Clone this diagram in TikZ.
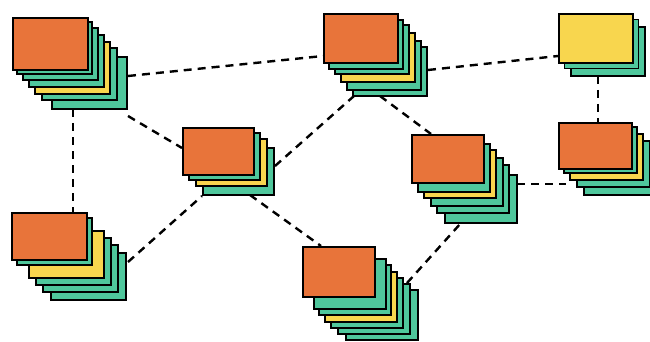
\documentclass[tikz,border=0pt]{standalone}
\begin{document}
\begin{tikzpicture}[x=1pt,y=-1pt,
  card/.style={draw=black, line width=1.8pt, line join=miter},
  link/.style={draw=black, line width=2.4pt, dash pattern=on 8pt off 6pt}]
\definecolor{cardorange}{HTML}{E8743A}
\definecolor{cardgreen}{HTML}{4FC79C}
\definecolor{cardyellow}{HTML}{F8D64E}
\colorlet{G}{cardgreen}
\colorlet{Y}{cardyellow}
\colorlet{O}{cardorange}
% #1 name, #2,#3 top-left of the front card, #4 x #5 its size,
% #6 its fill, #7 cards behind it (dx/dy/colour), back to front
\newcommand\cardstack[7]{%
  \foreach \dx/\dy/\col in {#7} {
    \draw[card, fill=\col] (#2+\dx,#3+\dy) rectangle ++(#4,#5);
  }
  \node[card, fill=#6, inner sep=0pt, anchor=north west,
        minimum width=#4pt, minimum height=#5pt] (#1) at (#2,#3) {};
}
\useasboundingbox (0,0) rectangle (650,342);
\fill[white] (0,0) rectangle (650,342);
\clip (0,0) rectangle (650,342);

% connector end points on the stack edges
\coordinate (a1) at (128,76);   \coordinate (b1) at (323,56);
\coordinate (a2) at (73,109);   \coordinate (b2) at (73,212);
\coordinate (a3) at (128,116);  \coordinate (b3) at (182,148);
\coordinate (a4) at (128,262);  \coordinate (b4) at (202,196);
\coordinate (a5) at (275,166);  \coordinate (b5) at (354,96);
\coordinate (a6) at (250,195);  \coordinate (b6) at (321,246);
\coordinate (a7) at (428,70);   \coordinate (b7) at (558,56);
\coordinate (a8) at (380,96);   \coordinate (b8) at (431,134);
\coordinate (a9) at (517,184);  \coordinate (b9) at (566,184);
\coordinate (a10) at (598,76);  \coordinate (b10) at (598,122);
\coordinate (a11) at (407,283); \coordinate (b11) at (461,223);

\foreach \i in {1,...,11} { \draw[link] (a\i) -- (b\i); }

\cardstack{s1}{12}{17}{75}{52}{O}{40/40/G,30/31/G,23/25/Y,17/18/G,11/11/G,5/5/G}
\cardstack{s2}{558}{13}{74}{49}{Y}{13/14/G,6.5/6.5/G}
\cardstack{s3}{558}{122}{73}{46}{O}{26/27/G,19/19/G,12/12/Y,6/5/G}
\cardstack{s4}{11}{212}{75}{47}{O}{40/41/G,32/33/G,25/26/G,18/19/Y,6/6/G}
\cardstack{s5}{302}{246}{72}{50}{O}{44/44/G,36/38/G,29/32/G,23/26/Y,17/19/G,12/13/G}
\cardstack{s6}{182}{127}{71}{47}{O}{21/21/G,14/12/Y,7/6/G}
\cardstack{s7}{411}{134}{72}{48}{O}{34/41/G,26/31/G,20/24/G,13/16/Y,7/10/G}
\cardstack{s8}{323}{13}{74}{49}{O}{30/34/G,24/28/G,18/20/Y,12/12/G,6/7/G}
\end{tikzpicture}
\end{document}
